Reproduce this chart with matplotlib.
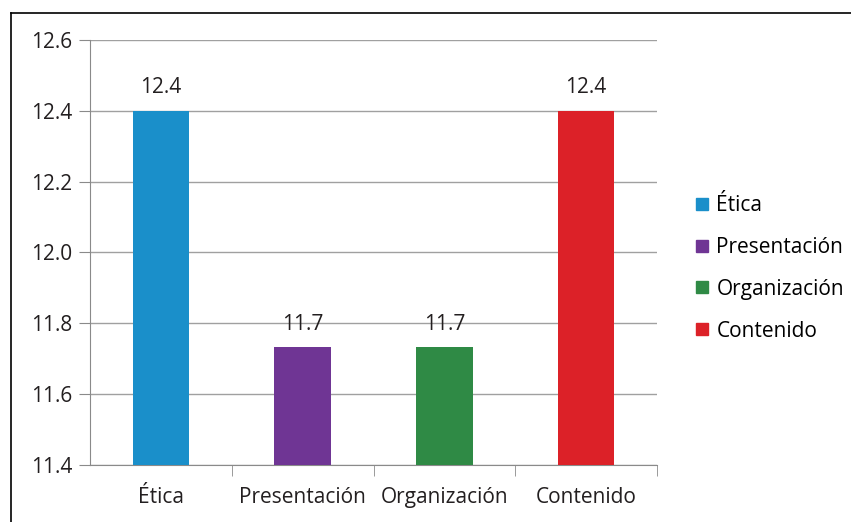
import matplotlib.pyplot as plt
from matplotlib.lines import Line2D

plt.rcParams['font.family'] = ['Open Sans', 'DejaVu Sans']

categorias = ['Ética', 'Presentación', 'Organización', 'Contenido']
valores = [12.4, 11.733, 11.733, 12.4]
etiquetas = ['12.4', '11.7', '11.7', '12.4']
colores = ['#1a8fca', '#6f3594', '#2f8a45', '#dc2128']

fig = plt.figure(figsize=(8.51, 5.22), dpi=100)
ax = fig.add_axes([0.1058, 0.1092, 0.772 - 0.1058, 0.9234 - 0.1092])

x = range(len(categorias))
bars = ax.bar(x, [v - 11.4 for v in valores], bottom=11.4, width=0.4, color=colores, zorder=3)

for i, (v, t) in enumerate(zip(valores, etiquetas)):
    ax.text(i, v + 0.035, t, ha='center', va='bottom', fontsize=15, color='#231f20', zorder=4)

ax.set_xlim(-0.5, 3.5)
ax.set_ylim(11.4, 12.6)
ax.set_yticks([11.4, 11.6, 11.8, 12.0, 12.2, 12.4, 12.6])
ax.set_yticklabels(['11.4', '11.6', '11.8', '12.0', '12.2', '12.4', '12.6'])
ax.set_xticks(list(x))
ax.set_xticklabels(categorias)
ax.set_xticks([0.5, 1.5, 2.5, 3.5], minor=True)
ax.tick_params(axis='x', which='major', length=0, pad=16, labelsize=15, colors='#231f20')
ax.tick_params(axis='x', which='minor', length=8, color='#8a8a8a')
ax.tick_params(axis='y', length=8, labelsize=15, colors='#231f20', pad=5)
ax.tick_params(axis='y', color='#8a8a8a')

ax.grid(axis='y', color='#a0a0a0', linewidth=1, zorder=0)
for s in ['top', 'right']:
    ax.spines[s].set_visible(False)
ax.spines['left'].set_color('#8a8a8a')
ax.spines['bottom'].set_color('#8a8a8a')

handles = [Line2D([], [], marker='s', linestyle='none', markersize=9, color=c) for c in colores]
fig.legend(handles, categorias, loc='center left', bbox_to_anchor=(0.805, 0.486), frameon=False,
           fontsize=15, handlelength=0.8, handletextpad=0.3, labelspacing=1.0, borderaxespad=0)

# page frame lines
fig.add_artist(Line2D([11 / 851, 1], [1 - 13 / 522, 1 - 13 / 522], color='black', linewidth=1.2))
fig.add_artist(Line2D([11 / 851, 11 / 851], [0, 1 - 13 / 522], color='black', linewidth=1.2))

fig.savefig('out.png', dpi=100)
